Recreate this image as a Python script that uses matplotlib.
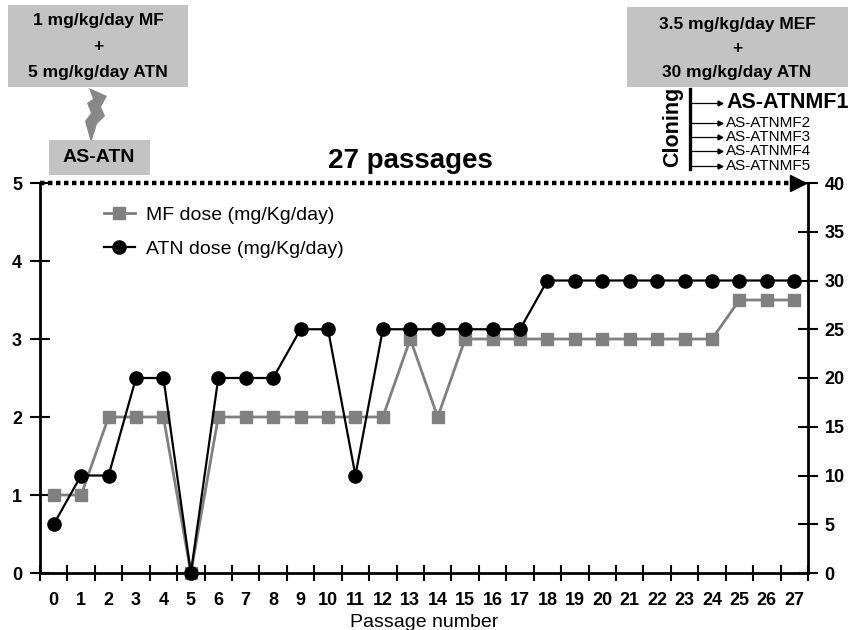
import matplotlib
matplotlib.use("Agg")
import matplotlib.pyplot as plt
from matplotlib.patches import Rectangle, Polygon
from matplotlib.lines import Line2D
from matplotlib import font_manager

names = {f.name for f in font_manager.fontManager.ttflist}
narrow = 'Liberation Sans Narrow' if 'Liberation Sans Narrow' in names else 'Liberation Sans'
plt.rcParams['font.family'] = ['Liberation Sans', 'DejaVu Sans']

passages = list(range(28))
mf_dose = [1, 1, 2, 2, 2, 0, 2, 2, 2, 2, 2, 2, 2, 3, 2, 3, 3, 3, 3, 3, 3, 3, 3, 3, 3, 3.5, 3.5, 3.5]
atn_dose = [5, 10, 10, 20, 20, 0, 20, 20, 20, 25, 25, 10, 25, 25, 25, 25, 25, 25, 30, 30, 30, 30, 30, 30, 30, 30, 30, 30]
left_ticks = [0, 1, 2, 3, 4, 5]
right_ticks = [0, 5, 10, 15, 20, 25, 30, 35, 40]
clones = ['AS-ATNMF1', 'AS-ATNMF2', 'AS-ATNMF3', 'AS-ATNMF4', 'AS-ATNMF5']

fig = plt.figure(figsize=(8.52, 6.3), dpi=100)
ax = fig.add_axes([40/852, 1-573/630, (808-40)/852, (573-183)/630])
ax2 = ax.twinx()

ax.plot(passages, mf_dose, color='#808080', lw=2, marker='s', ms=9, mec='#808080', mfc='#808080', clip_on=False, zorder=3)
ax2.plot(passages, atn_dose, color='black', lw=1.6, marker='o', ms=9.5, clip_on=False, zorder=4)

ax.set_xlim(-0.5, 27.5)
ax.set_ylim(0, 5)
ax2.set_ylim(0, 40)
ax.set_yticks(left_ticks)
ax2.set_yticks(right_ticks)
ax.set_xticks(passages)
ax.set_xticks([p - 0.5 for p in passages] + [27.5], minor=True)
ax.tick_params(axis='x', which='major', length=0, pad=14)
ax.tick_params(axis='x', which='minor', direction='inout', length=12, width=1.5)
ax.tick_params(axis='y', direction='inout', length=14, width=1.5, pad=6)
ax2.tick_params(axis='y', direction='inout', length=14, width=1.5, pad=5)

for a in (ax, ax2):
    a.spines['top'].set_visible(False)
    for s in ('left', 'right', 'bottom'):
        a.spines[s].set_linewidth(2)
ax.spines['right'].set_visible(False)
ax2.spines['left'].set_visible(False)
ax2.spines['bottom'].set_visible(False)

for lab in ax.get_xticklabels() + ax.get_yticklabels() + ax2.get_yticklabels():
    lab.set_fontfamily(narrow)
    lab.set_fontweight('bold')
    lab.set_fontsize(13)

ax.set_xlabel('Passage number', fontsize=14, fontfamily=narrow, labelpad=3)

# dotted top line with arrow
ax.plot([-0.5, 27.0], [5, 5], color='black', lw=3.2, linestyle=(0, (1, 0.8)), clip_on=False, zorder=5, solid_capstyle='butt', dash_capstyle='butt')
ax.plot([27.15], [5], marker='>', color='black', ms=11, clip_on=False, zorder=5)
ax.text(13.0, 5.12, '27 passages', ha='center', va='bottom', fontsize=20, fontweight='bold')

# legend
h1 = Line2D([], [], color='#808080', lw=2, marker='s', ms=9)
h2 = Line2D([], [], color='black', lw=1.6, marker='o', ms=9.5)
leg = ax2.legend([h1, h2], ['MF dose (mg/Kg/day)', 'ATN dose (mg/Kg/day)'], loc='upper left',
                 bbox_to_anchor=(0.06, 0.985), frameon=False, handlelength=1.6,
                 handletextpad=0.6, labelspacing=0.85, prop={'family': narrow, 'size': 14})

# annotations in figure pixel coords
def px(x, y):
    return x/852, 1 - y/630

gray = '#c3c3c3'
fig.patches.append(Rectangle(px(8, 87), 180/852, 82/630, transform=fig.transFigure, facecolor=gray, edgecolor='none'))
fig.text(*px(98, 20), '1 mg/kg/day MF', ha='center', va='center', fontsize=12.5, fontweight='bold')
fig.text(*px(98, 47), '+', ha='center', va='center', fontsize=12.5, fontweight='bold')
fig.text(*px(98, 73), '5 mg/kg/day ATN', ha='center', va='center', fontsize=12.5, fontweight='bold')

bolt = [(89, 88), (107, 96), (101, 107), (105, 116), (97, 124), (91, 143), (85, 121), (91, 113), (87, 103), (93, 99)]
fig.patches.append(Polygon([px(x, y) for x, y in bolt], closed=True, transform=fig.transFigure, facecolor='#888888', edgecolor='none'))

fig.patches.append(Rectangle(px(49, 175), 101/852, 35/630, transform=fig.transFigure, facecolor=gray, edgecolor='none'))
fig.text(*px(99, 157), 'AS-ATN', ha='center', va='center', fontsize=14, fontweight='bold')

fig.patches.append(Rectangle(px(627, 87), 221/852, 80/630, transform=fig.transFigure, facecolor=gray, edgecolor='none'))
fig.text(*px(737, 24), '3.5 mg/kg/day MEF', ha='center', va='center', fontsize=12.5, fontweight='bold')
fig.text(*px(737, 48), '+', ha='center', va='center', fontsize=12.5, fontweight='bold')
fig.text(*px(737, 72), '30 mg/kg/day ATN', ha='center', va='center', fontsize=12.5, fontweight='bold')

fig.text(*px(673, 127), 'Cloning', ha='center', va='center', rotation=90, fontsize=15.5, fontweight='bold')
fig.lines.append(Line2D([690/852, 690/852], [1-89/630, 1-169/630], transform=fig.transFigure, color='black', lw=2.4))
clone_y = [103, 123, 137, 151, 166]
clone_fs = [15.5, 11, 11, 11, 11]
for name, yy, fs in zip(clones, clone_y, clone_fs):
    fig.lines.append(Line2D([691/852, 719/852], [1-yy/630, 1-yy/630], transform=fig.transFigure, color='black', lw=0.9))
    fig.lines.append(Line2D([720/852], [1-yy/630], transform=fig.transFigure, color='black', marker='>', ms=3.5, lw=0))
    fig.text(*px(726, yy), name, ha='left', va='center', fontsize=fs, fontweight='bold' if fs > 12 else 'normal')

fig.savefig('out.png', dpi=100)
